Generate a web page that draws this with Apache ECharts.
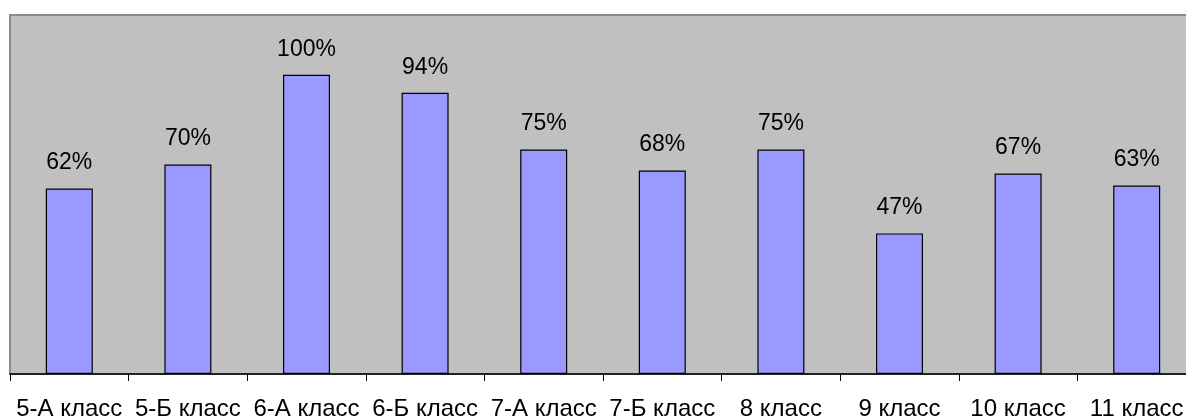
<!DOCTYPE html>
<html>
<head>
<meta charset="utf-8">
<script src="https://cdn.jsdelivr.net/npm/echarts@6/dist/echarts.min.js"></script>
<style>
html,body{margin:0;padding:0;background:#fff;}
#c{width:1186px;height:419px;}
</style>
</head>
<body>
<div id="c"></div>
<script>
const categories = ['5-А класс','5-Б класс','6-А класс','6-Б класс','7-А класс','7-Б класс','8 класс','9 класс','10 класс','11 класс'];
const values = [62, 70, 100, 94, 75, 68, 75, 47, 67, 63];

const chart = echarts.init(document.getElementById('c'), null, {renderer:'canvas'});
chart.setOption({
  animation:false,
  backgroundColor:'#ffffff',
  textStyle:{fontFamily:'"Liberation Sans", Arial, sans-serif'},
  grid:{left:10, width:1186, top:15, height:359, outerBoundsMode:'none', containLabel:false, show:true, backgroundColor:'#c0c0c0', borderColor:'#8a8a8a', borderWidth:2},
  xAxis:{
    type:'category',
    data:categories,
    axisLine:{lineStyle:{color:'#000', width:1.5}},
    axisTick:{show:true, length:7, lineStyle:{color:'#000'}},
    axisLabel:{color:'#000', fontSize:24, margin:23, interval:0, hideOverlap:false, fontFamily:'"Liberation Sans", Arial, sans-serif'}
  },
  yAxis:{type:'value', min:0, max:120, show:false, splitLine:{show:false}},
  series:[{
    type:'bar',
    data:values,
    barWidth:47,
    itemStyle:{color:'#9999ff', borderColor:'#000', borderWidth:1.2},
    label:{show:true, position:'top', distance:14, color:'#000', fontSize:23, formatter:'{c}%', fontFamily:'"Liberation Sans", Arial, sans-serif'}
  }]
});
</script>
</body>
</html>
